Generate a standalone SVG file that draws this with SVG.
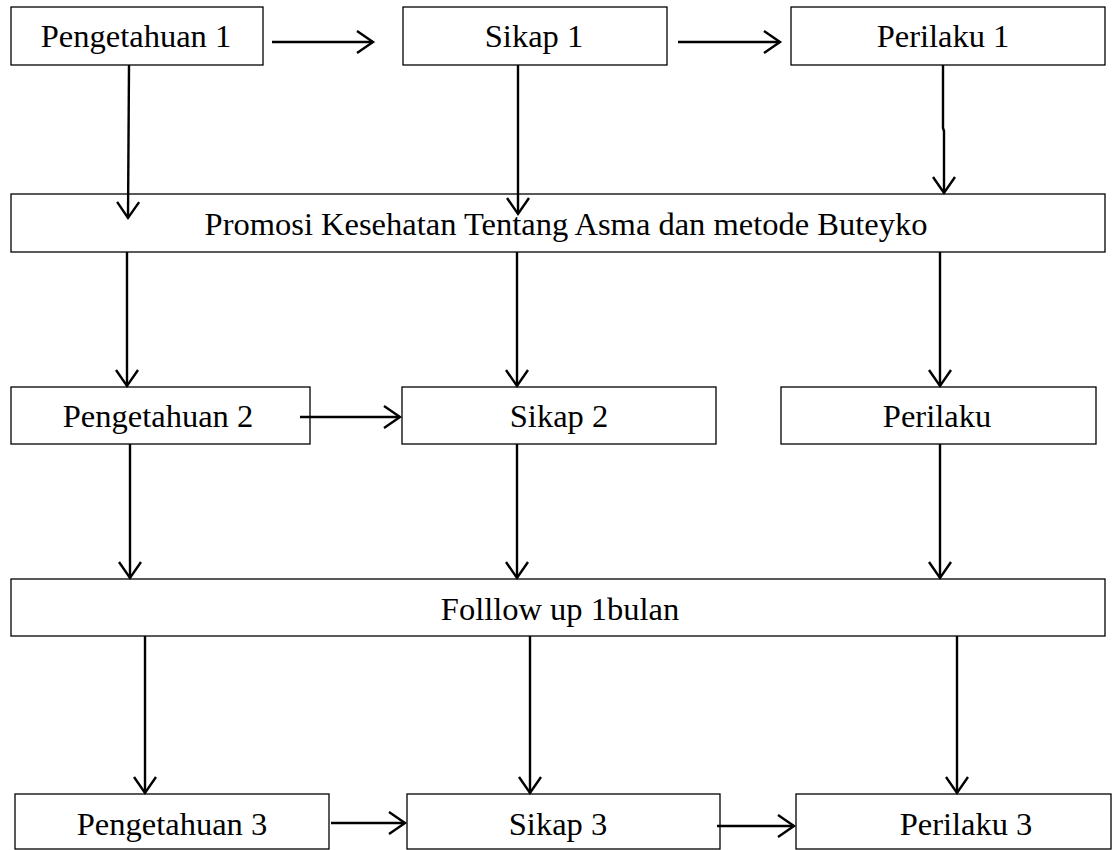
<svg xmlns="http://www.w3.org/2000/svg" width="1113" height="850" viewBox="0 0 1113 850">
<style>
.box{fill:#fff;stroke:#000;stroke-width:1.3}
.t{font-family:"Liberation Serif","Times New Roman",serif;font-size:32.5px;fill:#000;text-anchor:middle}
.c{fill:none;stroke:#000;stroke-width:2.4}
</style>
<defs>
<marker id="ah" markerUnits="userSpaceOnUse" markerWidth="30" markerHeight="30" refX="17" refY="12" orient="auto" viewBox="0 0 30 24">
<path d="M1,1 L17,12 L1,23" fill="none" stroke="#000" stroke-width="2.4"/>
</marker>
</defs>
<rect width="1113" height="850" fill="#fff"/>
<g id="n-peng1"><rect class="box" x="11" y="7" width="252" height="58"/><text class="t" x="136" y="47">Pengetahuan 1</text></g>
<g id="n-sikap1"><rect class="box" x="403" y="7" width="264" height="58"/><text class="t" x="534" y="47">Sikap 1</text></g>
<g id="n-perilaku1"><rect class="box" x="791" y="7" width="314" height="58"/><text class="t" x="943" y="47">Perilaku 1</text></g>
<g id="n-promosi"><rect class="box" x="11" y="194" width="1094" height="58"/><text class="t" x="566" y="235">Promosi Kesehatan Tentang Asma dan metode Buteyko</text></g>
<g id="n-peng2"><rect class="box" x="11" y="387" width="299" height="57"/><text class="t" x="158" y="427">Pengetahuan 2</text></g>
<g id="n-sikap2"><rect class="box" x="402" y="387" width="314" height="57"/><text class="t" x="559" y="427">Sikap 2</text></g>
<g id="n-perilaku2"><rect class="box" x="781" y="387" width="315" height="57"/><text class="t" x="937" y="427">Perilaku</text></g>
<g id="n-followup"><rect class="box" x="11" y="579" width="1094" height="57"/><text class="t" x="560" y="620">Folllow up 1bulan</text></g>
<g id="n-peng3"><rect class="box" x="15" y="794" width="314" height="55"/><text class="t" x="172" y="835">Pengetahuan 3</text></g>
<g id="n-sikap3"><rect class="box" x="407" y="794" width="313" height="55"/><text class="t" x="558" y="835">Sikap 3</text></g>
<g id="n-perilaku3"><rect class="box" x="796" y="794" width="315" height="55"/><text class="t" x="966" y="835">Perilaku 3</text></g>
<g id="connectors">
<line class="c" x1="272" y1="42" x2="373" y2="42" marker-end="url(#ah)"/>
<line class="c" x1="678" y1="42" x2="780" y2="42" marker-end="url(#ah)"/>
<line class="c" x1="129" y1="65" x2="128" y2="218" marker-end="url(#ah)"/>
<line class="c" x1="518" y1="65" x2="518" y2="214" marker-end="url(#ah)"/>
<polyline class="c" points="943,65 943,128 944,131 944,193" marker-end="url(#ah)"/>
<line class="c" x1="127" y1="252" x2="127" y2="386" marker-end="url(#ah)"/>
<line class="c" x1="517" y1="252" x2="517" y2="386" marker-end="url(#ah)"/>
<line class="c" x1="940" y1="252" x2="940" y2="386" marker-end="url(#ah)"/>
<line class="c" x1="300" y1="417" x2="400" y2="417" marker-end="url(#ah)"/>
<line class="c" x1="130" y1="444" x2="130" y2="578" marker-end="url(#ah)"/>
<line class="c" x1="517" y1="444" x2="517" y2="578" marker-end="url(#ah)"/>
<line class="c" x1="940" y1="444" x2="940" y2="578" marker-end="url(#ah)"/>
<line class="c" x1="145" y1="636" x2="145" y2="793" marker-end="url(#ah)"/>
<line class="c" x1="530" y1="636" x2="530" y2="793" marker-end="url(#ah)"/>
<line class="c" x1="957" y1="636" x2="957" y2="793" marker-end="url(#ah)"/>
<line class="c" x1="331" y1="823" x2="405" y2="823" marker-end="url(#ah)"/>
<line class="c" x1="717" y1="826" x2="794" y2="826" marker-end="url(#ah)"/>
</g>
</svg>
